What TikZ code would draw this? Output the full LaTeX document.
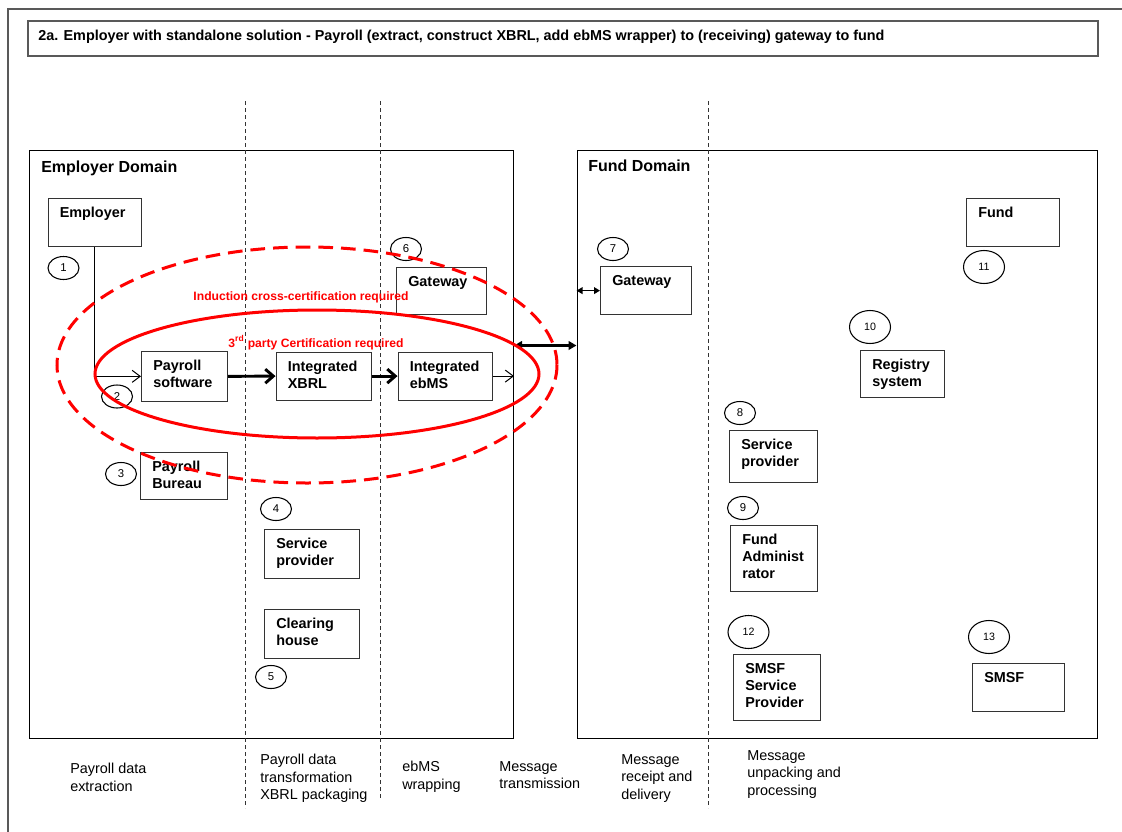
\documentclass[tikz,border=0pt]{standalone}
\usepackage{fontspec}
\setmainfont{Liberation Sans}
\usetikzlibrary{arrows.meta,shapes.geometric}

% a labelled process box: name, left, top, width, height, text
\newcommand{\stagebox}[6]{%
  \node[procbox, minimum width={#4*0.75pt}, minimum height={#5*0.75pt}] (#1) at (#2,#3) {};
  \node[boxlabel] (#1-t) at ([shift={(12,9)}]#1.north west) {#6};
}

\begin{document}
\begin{tikzpicture}[x=0.75pt, y=-0.75pt,
  pageframe/.style={draw=black!65, line width=1.1pt},
  domainbox/.style={draw=black, line width=0.8pt, anchor=north west, inner sep=0pt},
  procbox/.style={draw=black!80, line width=0.9pt, anchor=north west, inner sep=0pt},
  boxlabel/.style={anchor=north west, inner sep=0pt, align=left,
    font=\bfseries\fontsize{10.8}{12.75}\selectfont},
  heading/.style={anchor=base west, inner sep=0pt, font=\bfseries\fontsize{12}{14}\selectfont},
  stepnum/.style={draw=black, ellipse, line width=0.8pt, inner sep=0pt,
    minimum width={31*0.75pt}, minimum height={23*0.75pt},
    font=\fontsize{8.5}{10}\selectfont},
  bigstepnum/.style={stepnum, minimum width={41*0.75pt}, minimum height={33*0.75pt},
    font=\fontsize{8}{10}\selectfont},
  phasetext/.style={anchor=north west, inner sep=0pt, align=left,
    font=\fontsize{10.8}{13.1}\selectfont},
  lanesep/.style={draw=black!80, line width=0.7pt, dash pattern=on 3pt off 2.25pt},
  dataflow/.style={draw=black, line width=0.75pt, -{Straight Barb[length=6pt,width=9pt]}},
  bigflow/.style={draw=black, line width=2.2pt, -{Straight Barb[length=6pt,width=10.5pt]}},
  twoway/.style={draw=black, line width=2pt, {Triangle[length=6pt,width=6.5pt]}-{Triangle[length=6pt,width=6.5pt]}},
  smalltwoway/.style={draw=black, line width=1.1pt, {Triangle[length=4.5pt,width=5pt]}-{Triangle[length=4.5pt,width=5pt]}},
  certlabel/.style={anchor=base, inner sep=0pt, text=red, font=\bfseries\fontsize{9.1}{11}\selectfont},
  certline/.style={draw=red, line width=2.25pt}
]
\useasboundingbox (0,0) rectangle (1122,832);
\fill[white] (0,0) rectangle (1122,832);

% outer page frame
\draw[pageframe] (8,832) -- (8,9) -- (1122,9);

% title
\node[pageframe, line width=1.3pt, anchor=north west, inner sep=0pt, minimum width={1070*0.75pt}, minimum height={35*0.75pt}] (titlebox) at (27,20) {};
\node[anchor=base west, inner sep=0pt, font=\bfseries\fontsize{10.8}{12}\selectfont] (title) at (38,40)
  {2a. Employer with standalone solution - Payroll (extract, construct XBRL, add ebMS wrapper) to (receiving) gateway to fund};

% domains
\node[domainbox, minimum width={484*0.75pt}, minimum height={588*0.75pt}] (empDom) at (29,150) {};
\node[domainbox, minimum width={520.5*0.75pt}, minimum height={588*0.75pt}] (fundDom) at (576.5,150) {};
\node[heading] (empDom-t) at (41,172) {Employer Domain};
\node[heading] (fundDom-t) at (588,171) {Fund Domain};

% phase separators
\draw[lanesep] (245,101) -- (245,808);
\draw[lanesep] (380,101) -- (380,800);
\draw[lanesep] (708,101) -- (708,808);

% employer side
\stagebox{emp}{47.5}{198}{93.5}{48}{Employer}
\stagebox{psw}{141}{351}{86}{49.5}{Payroll\\software}
\stagebox{xbrl}{275.5}{351.5}{95}{48}{Integrated\\XBRL}
\stagebox{ebms}{397.5}{351.5}{94.5}{48}{Integrated\\ebMS}
\stagebox{gwE}{396}{267}{90}{47}{Gateway}
\stagebox{pbur}{140}{452}{87}{47}{Payroll\\Bureau}
\stagebox{spE}{264}{529}{95}{48.5}{Service\\provider}
\stagebox{clr}{264}{609}{95}{49}{Clearing\\house}

% fund side
\stagebox{gwF}{600}{266}{90.5}{48}{Gateway}
\stagebox{fund}{966}{198}{93}{48}{Fund}
\stagebox{reg}{860}{349.5}{83.5}{47.5}{Registry\\system}
\stagebox{spF}{729}{430}{88}{52}{Service\\provider}
\stagebox{fadm}{730}{524.5}{87}{66}{Fund\\Administ\\rator}
\stagebox{smsfsp}{733}{654}{87}{66}{SMSF\\Service\\Provider}
\stagebox{smsf}{972}{663}{92}{48}{SMSF}

% step numbers
\node[stepnum] (n1) at (63.5,268) {1};
\node[stepnum] (n2) at (117,396.5) {2};
\node[stepnum] (n3) at (121,474) {3};
\node[stepnum] (n4) at (276,509) {4};
\node[stepnum] (n5) at (271,677) {5};
\node[stepnum] (n6) at (406,249) {6};
\node[stepnum] (n7) at (613,249) {7};
\node[stepnum] (n8) at (740,413) {8};
\node[stepnum] (n9) at (743,508) {9};
\node[bigstepnum] (n10) at (870,327) {10};
\node[bigstepnum] (n11) at (984,267) {11};
\node[bigstepnum] (n12) at (748.5,632) {12};
\node[bigstepnum] (n13) at (989,637) {13};

% data flow
\draw[dataflow] (emp.south) |- (psw.west);
\draw[bigflow] (psw.east) -- (xbrl.west);
\draw[bigflow] (xbrl.east) -- (ebms.west);
\draw[dataflow] (ebms.east) -- (ebms.east -| empDom.east);
\coordinate (tx) at (545,345.5);
\draw[twoway] (empDom.east |- tx) -- (fundDom.west |- tx);
\draw[smalltwoway] (fundDom.west |- gwF.west) -- (gwF.west);

% certification scopes
\draw[certline] (317,374) ellipse [x radius=222, y radius=64];
\draw[certline, dash pattern=on 11pt off 6pt] (307,365) ellipse [x radius=250, y radius=118];
\node[certlabel] (cross) at (301,300) {Induction cross-certification required};
\node[certlabel] (third) at (316,347) {3\textsuperscript{rd}\ party Certification required};

% phase captions
\node[phasetext] (ph1) at (70,763) {Payroll data\\extraction};
\node[phasetext] (ph2) at (260,754) {Payroll data\\transformation\\XBRL packaging};
\node[phasetext] (ph3) at (402,761) {ebMS\\wrapping};
\node[phasetext] (ph4) at (499,761) {Message\\transmission};
\node[phasetext] (ph5) at (621,754) {Message\\receipt and\\delivery};
\node[phasetext] (ph6) at (747,750) {Message\\unpacking and\\processing};
\end{tikzpicture}
\end{document}
